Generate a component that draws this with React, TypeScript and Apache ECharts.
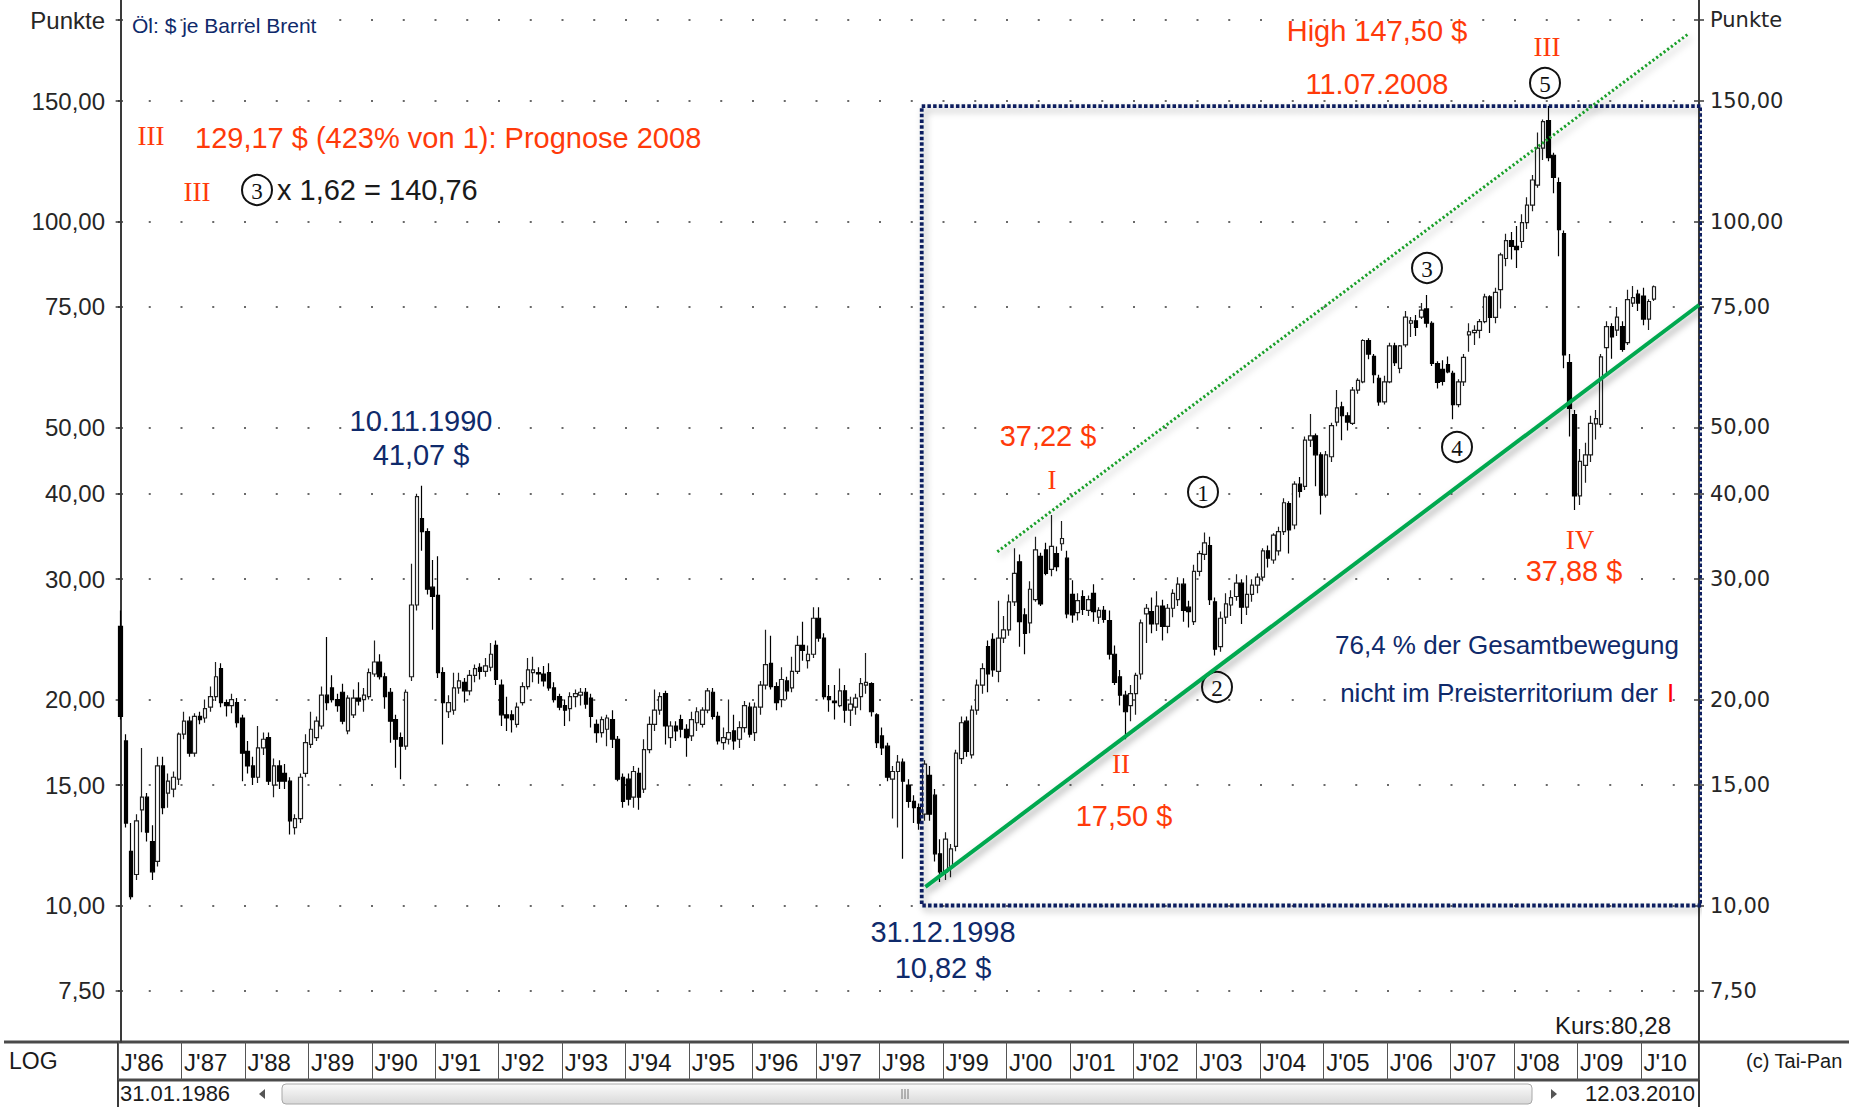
import React, { useEffect, useRef } from "react";
import * as echarts from "echarts";

// ---------- data (monthly Brent candles, Jan 1986 .. Mar 2010) ----------
const firstYear = 1986;
const paddingMonths = 8;

const opens = [
  25.6, 17.4, 12.0, 11.1, 13.8, 14.4, 12.4, 11.6, 16.0, 14.6, 14.8, 15.3,
  17.8, 18.6, 16.7, 18.9, 18.8, 19.5, 20.2, 22.2, 19.8, 19.6, 19.8, 18.8,
  16.8, 16.0, 15.4, 17.0, 17.6, 15.0, 16.0, 15.6, 15.2, 13.0, 13.4, 15.6,
  17.2, 17.6, 18.3, 20.3, 20.8, 20.0, 20.5, 18.0, 19.0, 20.1, 20.0, 20.2,
  21.8, 22.7, 21.6, 20.5, 18.7, 17.6, 17.1, 21.6, 27.5, 36.8, 35.2, 29.2,
  28.4, 21.9, 19.2, 19.3, 20.8, 21.2, 20.6, 21.7, 22.3, 22.0, 22.3, 24.0,
  21.0, 19.0, 19.0, 18.4, 19.8, 20.9, 21.9, 21.9, 21.8, 21.9, 20.8, 20.2,
  19.6, 19.4, 20.2, 20.3, 20.5, 20.1, 18.4, 17.9, 18.1, 18.7, 17.5, 15.4,
  15.3, 14.4, 15.6, 14.8, 16.9, 18.4, 19.3, 20.4, 17.6, 18.3, 18.7, 18.1,
  17.7, 18.5, 18.4, 19.3, 20.5, 18.9, 17.3, 17.5, 18.0, 17.5, 18.2, 19.5,
  17.9, 19.5, 21.0, 22.6, 20.9, 20.0, 21.3, 20.8, 22.0, 24.0, 22.8, 23.3,
  26.3, 24.6, 20.2, 19.9, 19.6, 20.6, 19.3, 19.5, 20.2, 21.0, 21.1, 19.0,
  17.7, 17.1, 15.3, 15.7, 16.2, 15.0, 14.2, 13.9, 13.6, 15.5, 14.5, 11.9,
  11.2, 11.4, 12.2, 16.4, 18.6, 16.6, 19.3, 21.0, 23.9, 24.5, 22.0, 24.6,
  25.3, 27.8, 31.8, 26.6, 25.9, 28.0, 32.4, 33.1, 31.0, 32.7, 33.8, 32.2,
  28.5, 26.8, 28.3, 27.0, 28.6, 26.4, 27.0, 26.1, 23.3, 21.6, 20.3, 19.6,
  20.4, 21.8, 26.7, 26.9, 25.8, 27.4, 25.6, 27.2, 28.0, 29.5, 27.3, 26.0,
  30.8, 32.6, 33.6, 27.8, 23.9, 26.4, 27.5, 28.3, 29.6, 27.3, 28.5, 29.4,
  30.2, 33.0, 32.0, 33.0, 35.2, 38.7, 36.0, 41.3, 41.0, 47.9, 48.6, 45.6,
  39.8, 45.3, 50.9, 53.6, 52.0, 50.7, 56.7, 58.3, 67.0, 63.5, 59.0, 54.5,
  58.3, 65.8, 61.0, 66.0, 71.0, 71.6, 72.5, 74.5, 71.0, 62.0, 60.8, 61.8,
  60.0, 54.0, 58.3, 68.3, 68.8, 69.3, 71.4, 77.6, 72.4, 79.5, 88.3, 93.8,
  92.0, 93.5, 99.6, 105.7, 113.0, 128.0, 140.5, 125.0, 114.0, 96.0, 62.2, 52.2,
  39.7, 44.0, 45.6, 50.6, 50.5, 65.4, 70.2, 69.4, 70.2, 66.5, 76.0, 78.3,
  77.8, 72.0, 77.0,
];

const highs = [
  27.0, 17.8, 13.2, 13.6, 17.0, 14.6, 13.1, 16.5, 16.5, 15.6, 15.7, 17.9,
  19.2, 18.9, 19.1, 19.2, 20.0, 20.9, 22.7, 22.6, 20.0, 20.4, 20.1, 19.0,
  17.4, 16.5, 18.3, 17.9, 17.9, 16.4, 16.3, 16.1, 15.4, 13.6, 15.6, 17.8,
  19.2, 18.9, 20.9, 24.7, 21.7, 20.4, 21.1, 20.3, 20.7, 21.2, 20.8, 22.2,
  24.4, 23.3, 21.9, 20.8, 19.0, 17.9, 20.7, 31.6, 40.0, 41.07, 35.6, 32.0,
  32.4, 22.3, 20.3, 21.9, 21.9, 21.5, 22.1, 22.5, 22.6, 23.0, 24.2, 24.4,
  21.4, 20.2, 19.3, 19.8, 21.2, 23.0, 23.1, 22.3, 22.4, 22.6, 21.2, 20.4,
  20.0, 20.5, 20.7, 20.8, 20.8, 20.4, 18.7, 18.9, 19.0, 19.3, 17.7, 15.6,
  15.6, 16.0, 15.9, 17.5, 18.9, 20.7, 20.5, 20.6, 18.6, 18.6, 19.0, 18.4,
  19.2, 19.5, 19.5, 20.8, 20.8, 19.2, 18.2, 20.0, 19.0, 18.6, 19.9, 19.8,
  19.8, 21.3, 25.3, 24.8, 21.2, 22.3, 21.6, 23.1, 24.8, 26.0, 24.0, 27.3,
  27.3, 25.0, 21.0, 21.0, 22.2, 21.0, 20.2, 20.4, 21.5, 23.4, 21.2, 19.1,
  18.2, 17.3, 16.0, 16.6, 16.4, 15.3, 14.5, 14.1, 16.3, 16.0, 14.8, 12.5,
  12.8, 12.3, 16.9, 18.9, 18.9, 19.6, 21.4, 22.6, 24.4, 25.0, 27.9, 26.5,
  28.5, 33.3, 32.6, 27.2, 29.8, 34.6, 32.8, 33.9, 37.22, 33.5, 36.5, 33.0,
  29.9, 28.6, 28.9, 28.4, 29.5, 27.3, 27.4, 27.0, 24.0, 22.1, 20.6, 21.0,
  21.9, 26.2, 27.6, 28.2, 28.8, 28.0, 27.6, 29.0, 30.2, 30.1, 27.9, 31.5,
  33.0, 35.1, 34.6, 28.2, 26.9, 28.6, 28.9, 30.5, 30.0, 30.4, 30.0, 30.6,
  33.3, 33.6, 35.0, 35.8, 39.4, 39.0, 41.7, 42.3, 48.5, 52.3, 49.0, 46.0,
  46.2, 50.8, 56.7, 54.5, 52.6, 57.3, 59.0, 67.3, 67.5, 64.0, 59.7, 59.5,
  66.5, 66.5, 66.0, 74.0, 72.5, 73.0, 76.0, 78.1, 71.5, 62.5, 62.7, 63.5,
  60.5, 58.8, 64.0, 71.0, 70.5, 72.0, 78.4, 78.0, 80.0, 90.0, 96.0, 96.5,
  98.5, 102.5, 108.5, 117.0, 135.0, 141.0, 147.5, 126.0, 116.0, 97.0, 64.0, 53.0,
  46.5, 47.5, 52.0, 53.0, 64.0, 71.5, 71.0, 75.0, 71.5, 79.5, 80.5, 79.5,
  80.0, 77.0, 80.6,
];

const lows = [
  18.7, 13.0, 10.2, 10.9, 12.8, 12.4, 10.9, 11.4, 13.6, 13.9, 14.4, 15.0,
  17.5, 16.5, 16.5, 18.4, 18.5, 19.2, 19.9, 19.5, 18.9, 19.1, 18.2, 15.2,
  15.6, 15.0, 15.1, 16.6, 15.0, 14.4, 14.8, 14.8, 12.7, 12.7, 13.2, 15.4,
  17.0, 17.4, 18.1, 19.3, 19.8, 19.2, 18.4, 17.8, 18.8, 19.6, 19.2, 20.0,
  21.6, 21.4, 19.4, 17.3, 15.9, 15.3, 16.9, 21.3, 27.0, 33.0, 28.5, 25.3,
  21.5, 17.2, 18.8, 19.0, 20.4, 19.8, 20.3, 21.2, 21.4, 21.6, 22.0, 21.0,
  18.3, 18.0, 17.9, 18.2, 19.6, 20.7, 21.2, 21.1, 20.9, 20.6, 19.8, 19.3,
  18.3, 18.6, 19.5, 19.6, 19.4, 18.2, 17.3, 17.6, 17.1, 17.0, 15.2, 13.9,
  14.0, 13.9, 13.8, 14.6, 16.7, 18.0, 19.0, 17.2, 17.0, 17.4, 17.6, 16.5,
  17.4, 18.0, 18.2, 19.1, 18.7, 17.2, 16.9, 17.2, 16.9, 17.0, 17.9, 17.6,
  17.4, 19.0, 20.7, 20.7, 19.3, 19.5, 20.0, 20.5, 21.8, 22.8, 22.2, 23.0,
  24.3, 20.0, 19.2, 18.7, 19.5, 18.5, 18.3, 19.0, 19.3, 20.4, 18.9, 17.0,
  16.6, 15.2, 13.4, 13.0, 11.7, 13.9, 13.2, 12.9, 13.3, 13.3, 11.6, 10.82,
  10.9, 11.0, 12.0, 16.1, 16.5, 16.4, 19.0, 20.4, 20.5, 21.6, 21.2, 24.2,
  24.8, 27.4, 23.9, 23.3, 25.0, 27.8, 27.4, 30.4, 30.3, 30.8, 33.0, 26.3,
  25.9, 26.1, 26.6, 26.5, 26.0, 25.8, 25.9, 22.9, 21.0, 19.6, 17.5, 18.6,
  19.0, 21.4, 24.2, 25.0, 25.2, 24.4, 25.0, 26.4, 27.4, 26.0, 25.5, 25.7,
  30.3, 32.0, 27.5, 23.2, 23.5, 25.8, 26.5, 27.9, 25.8, 26.6, 27.8, 28.6,
  29.8, 31.2, 31.6, 32.5, 34.8, 32.7, 35.5, 39.5, 40.5, 46.8, 41.0, 37.3,
  39.5, 44.5, 50.2, 47.9, 49.5, 50.4, 56.0, 58.0, 62.9, 58.0, 53.8, 54.0,
  58.0, 61.5, 60.0, 65.5, 67.8, 68.0, 72.0, 70.0, 61.5, 57.0, 57.6, 60.0,
  51.4, 53.5, 57.5, 64.5, 66.0, 67.5, 71.0, 68.7, 71.0, 74.6, 86.0, 88.0,
  85.5, 91.5, 97.5, 103.5, 112.0, 123.0, 122.5, 110.0, 89.0, 61.0, 48.5, 37.88,
  38.5, 41.5, 44.5, 48.0, 50.0, 59.5, 63.0, 68.0, 64.5, 66.0, 75.0, 74.0,
  70.5, 69.4, 76.5,
];

const closes = [
  18.9, 13.2, 10.3, 13.3, 14.4, 12.8, 11.2, 16.0, 13.9, 15.2, 15.4, 17.8,
  18.6, 16.7, 18.9, 18.7, 19.4, 20.2, 21.6, 19.8, 19.6, 20.0, 18.5, 16.7,
  16.0, 15.4, 17.0, 17.5, 15.2, 16.0, 15.2, 15.2, 13.3, 13.4, 15.4, 17.3,
  18.1, 18.6, 20.3, 19.8, 20.0, 19.6, 18.6, 20.1, 20.1, 19.9, 20.3, 21.9,
  22.7, 21.6, 20.2, 18.6, 17.5, 17.1, 20.5, 27.5, 39.6, 35.2, 29.0, 28.3,
  21.9, 19.8, 19.8, 20.8, 21.3, 20.6, 21.7, 22.2, 22.0, 22.4, 23.3, 21.4,
  19.0, 18.8, 18.7, 19.5, 20.9, 22.1, 22.1, 21.8, 21.3, 20.8, 20.0, 19.5,
  19.3, 20.2, 20.4, 20.5, 19.7, 18.9, 17.9, 18.7, 18.8, 17.5, 15.3, 14.2,
  14.3, 15.7, 14.4, 16.9, 18.4, 19.3, 20.2, 18.3, 18.3, 18.0, 18.1, 17.6,
  18.7, 19.2, 19.3, 20.6, 18.9, 17.4, 17.6, 17.9, 17.4, 18.2, 19.6, 17.8,
  19.5, 21.0, 22.5, 20.9, 19.8, 21.4, 20.6, 22.0, 24.0, 23.6, 23.3, 26.3,
  24.6, 20.2, 20.0, 19.8, 20.6, 19.3, 19.7, 20.1, 21.1, 21.2, 19.2, 17.3,
  17.0, 15.4, 15.7, 16.2, 15.2, 14.2, 13.9, 13.2, 16.1, 13.6, 11.9, 11.2,
  12.5, 12.1, 16.7, 18.5, 16.8, 19.3, 21.0, 22.2, 21.8, 22.1, 24.6, 25.3,
  27.8, 30.6, 26.0, 25.0, 29.0, 33.1, 27.6, 30.6, 33.5, 31.3, 34.4, 26.7,
  26.6, 27.9, 27.1, 28.0, 26.9, 27.0, 26.2, 23.3, 21.2, 20.3, 19.2, 20.4,
  21.7, 25.9, 27.2, 25.8, 27.4, 25.6, 27.2, 28.6, 29.5, 27.0, 26.9, 30.8,
  32.7, 33.9, 28.0, 23.7, 26.3, 27.6, 28.2, 29.6, 27.3, 28.5, 29.4, 30.2,
  33.0, 32.2, 34.8, 35.2, 38.8, 35.4, 41.3, 40.3, 47.9, 48.6, 45.6, 39.8,
  45.6, 50.3, 53.4, 52.0, 50.9, 56.7, 58.6, 67.0, 64.0, 59.7, 54.5, 58.3,
  65.8, 62.2, 65.8, 72.5, 71.6, 70.0, 74.2, 71.0, 62.0, 58.2, 58.4, 60.3,
  54.0, 58.3, 63.3, 69.0, 69.3, 71.4, 77.6, 72.4, 78.8, 89.4, 93.8, 92.0,
  91.0, 99.6, 105.7, 115.0, 128.0, 140.0, 124.0, 116.0, 97.3, 63.8, 53.3, 39.7,
  44.6, 45.6, 50.7, 51.5, 63.4, 70.2, 67.8, 72.5, 65.0, 76.9, 77.4, 76.0,
  72.0, 76.4, 80.28,
];

// axis ticks (price levels); the top level is labelled "Punkte"
const yTickValues = [7.5, 10, 15, 20, 30, 40, 50, 75, 100, 150, 197];
const topTickValue = 197;
const topTickLabel = "Punkte";
const yMinPrice = 6.316;
const yMaxPrice = 210.8;

// overlay lines, as [month index, price]
const supportLine = [[152.2, 10.65], [298.5, 75.5]];
const channelLine = [[165.8, 32.9], [296.3, 187.6]];
const waveOneLevel = [[175.2, 37.22], [296.3, 37.22]];
const boxLine = [[151.5, 147.5], [298.9, 147.5], [298.9, 10.0], [151.5, 10.0], [151.5, 147.5]];

// ---------- styles ----------
const RED = "#ff3a0a";
const NAVY = "#0f2a6b";
const SANS = "Liberation Sans, Arial, sans-serif";
const SERIF = "Liberation Serif, Times New Roman, serif";

const txt = (x: number, y: number, text: string, o: any = {}) => ({
  type: "text",
  x,
  y,
  silent: true,
  z: 100,
  style: {
    text,
    fill: o.fill || "#111",
    fontSize: o.size || 29,
    fontFamily: o.family || SANS,
    fontWeight: o.weight || "normal",
    align: o.align || "center",
    verticalAlign: "middle",
    textAlign: o.align || "center",
    textVerticalAlign: "middle",
  },
});

const circled = (x: number, y: number, d: string) => ({
  type: "group",
  x,
  y,
  silent: true,
  z: 100,
  children: [
    { type: "circle", shape: { cx: 0, cy: 0, r: 15 }, style: { fill: "rgba(0,0,0,0)", stroke: "#111", lineWidth: 2 } },
    {
      type: "text",
      style: {
        text: d, x: 0, y: 1, fill: "#111", fontSize: 23, fontFamily: SERIF,
        align: "center", verticalAlign: "middle", textAlign: "center", textVerticalAlign: "middle",
      },
    },
  ],
});

const roman = (x: number, y: number, t: string) => txt(x, y, t, { fill: RED, size: 27, family: SERIF });

export default function App() {
  const ref = useRef<HTMLDivElement>(null);

  useEffect(() => {
    if (!ref.current) return;
    const chart = echarts.init(ref.current, undefined, { renderer: "svg" });

    const n = closes.length + paddingMonths;
    const monthCats = Array.from({ length: n }, (_, i) =>
      `${firstYear + Math.floor(i / 12)}-${String((i % 12) + 1).padStart(2, "0")}`
    );
    const candles = closes.map((c, i) => [
      Math.log10(opens[i]), Math.log10(c), Math.log10(lows[i]), Math.log10(highs[i]),
    ]);
    const toLog = (pts: number[][]) => pts.map(([i, p]) => [i, Math.log10(p)]);
    const tickLogs = yTickValues.map((v) => Math.log10(v));
    const fmt = (v: number) => {
      let best = yTickValues[0];
      for (const t of yTickValues) if (Math.abs(Math.log10(t) - v) < Math.abs(Math.log10(best) - v)) best = t;
      return best === topTickValue ? topTickLabel : best.toFixed(2).replace(".", ",");
    };
    const baseY = { type: "value", min: Math.log10(yMinPrice), max: Math.log10(yMaxPrice) };
    const shadow = { shadowBlur: 7, shadowColor: "rgba(0,0,0,0.35)", shadowOffsetX: 3, shadowOffsetY: 4 };

    const option: any = {
      animation: false,
      backgroundColor: "#ffffff",
      grid: { left: 118, right: 150, top: 0, bottom: 65, containLabel: false },
      xAxis: [
        {
          type: "category",
          data: monthCats,
          boundaryGap: true,
          position: "bottom",
          axisLine: { show: false },
          axisTick: { show: true, interval: (i: number) => i % 12 === 0, length: 38, lineStyle: { color: "#555", width: 1 } },
          axisLabel: {
            show: true,
            interval: (i: number) => i % 12 === 0,
            formatter: (v: string) => "J'" + v.slice(2, 4),
            align: "left",
            margin: 8,
            fontSize: 24,
            fontFamily: SANS,
            color: "#1a1a1a",
          },
          splitLine: { show: false },
        },
        { type: "value", min: -0.5, max: n - 0.5, show: false, position: "bottom" },
      ],
      yAxis: [
        {
          ...baseY,
          position: "left",
          axisLine: { show: true, lineStyle: { color: "#3a3a3a", width: 2 } },
          axisTick: { show: true, customValues: tickLogs, length: 5, lineStyle: { color: "#3a3a3a", width: 1.5 } },
          axisLabel: { show: true, customValues: tickLogs, formatter: fmt, margin: 13, fontSize: 24, fontFamily: SANS, color: "#262626" },
          splitLine: { show: true, lineStyle: { color: "#6a6a6a", width: 2, type: [2, 29.75], dashOffset: 1 } },
        },
        {
          ...baseY,
          position: "right",
          axisLine: { show: true, lineStyle: { color: "#3a3a3a", width: 2 } },
          axisTick: { show: true, customValues: tickLogs, length: 5, lineStyle: { color: "#3a3a3a", width: 1.5 } },
          axisLabel: { show: true, customValues: tickLogs, formatter: fmt, margin: 11, fontSize: 21, fontFamily: "DejaVu Sans, Verdana, sans-serif", color: "#262626" },
          splitLine: { show: false },
        },
        {
          ...baseY,
          position: "left",
          axisLine: { show: false },
          axisTick: { show: true, inside: true, customValues: tickLogs, length: 5, lineStyle: { color: "#3a3a3a", width: 1.5 } },
          axisLabel: { show: false },
          splitLine: { show: false },
        },
        {
          ...baseY,
          position: "right",
          axisLine: { show: false },
          axisTick: { show: true, inside: true, customValues: tickLogs, length: 5, lineStyle: { color: "#3a3a3a", width: 1.5 } },
          axisLabel: { show: false },
          splitLine: { show: false },
        },
      ],
      series: [
        {
          type: "candlestick",
          xAxisIndex: 0,
          yAxisIndex: 0,
          data: candles,
          barWidth: 4,
          silent: true,
          itemStyle: { color: "#ffffff", color0: "#000000", borderColor: "#1e1e1e", borderColor0: "#000000", borderWidth: 1.2 },
          z: 2,
        },
        {
          type: "line", xAxisIndex: 1, yAxisIndex: 0, data: toLog(boxLine), symbol: "none", clip: false, silent: true, z: 4,
          lineStyle: { color: "#0b1f5e", width: 3.8, type: [3.5, 2.2], ...shadow },
        },
        {
          type: "line", xAxisIndex: 1, yAxisIndex: 0, data: toLog(waveOneLevel), symbol: "none", clip: false, silent: true, z: 5,
          lineStyle: { color: "#4a7bbb", width: 2, ...shadow },
        },
        {
          type: "line", xAxisIndex: 1, yAxisIndex: 0, data: toLog(channelLine), symbol: "none", clip: false, silent: true, z: 5,
          lineStyle: { color: "#1a9f2a", width: 3, type: [2.2, 2.4], ...shadow },
        },
        {
          type: "line", xAxisIndex: 1, yAxisIndex: 0, data: toLog(supportLine), symbol: "none", clip: false, silent: true, z: 6,
          lineStyle: { color: "#00a84f", width: 4, ...shadow },
        },
      ],
      graphic: [
        // frame of the date strip
        { type: "line", silent: true, shape: { x1: 4, y1: 1042, x2: 1849, y2: 1042 }, style: { stroke: "#4a4a4a", lineWidth: 3 } },
        { type: "line", silent: true, shape: { x1: 118, y1: 1080, x2: 1699, y2: 1080 }, style: { stroke: "#4a4a4a", lineWidth: 3 } },
        { type: "line", silent: true, shape: { x1: 118, y1: 1042, x2: 118, y2: 1107 }, style: { stroke: "#3a3a3a", lineWidth: 2 } },
        { type: "line", silent: true, shape: { x1: 1699, y1: 1042, x2: 1699, y2: 1107 }, style: { stroke: "#3a3a3a", lineWidth: 2 } },
        // scrollbar
        {
          type: "rect", silent: true, shape: { x: 282, y: 1084, width: 1250, height: 20, r: 4 },
          style: {
            fill: new echarts.graphic.LinearGradient(0, 0, 0, 1, [
              { offset: 0, color: "#fbfbfb" }, { offset: 1, color: "#d9d9d9" },
            ]),
            stroke: "#a8a8a8", lineWidth: 1,
          },
        },
        { type: "line", silent: true, shape: { x1: 902, y1: 1089, x2: 902, y2: 1099 }, style: { stroke: "#777", lineWidth: 1 } },
        { type: "line", silent: true, shape: { x1: 905, y1: 1089, x2: 905, y2: 1099 }, style: { stroke: "#777", lineWidth: 1 } },
        { type: "line", silent: true, shape: { x1: 908, y1: 1089, x2: 908, y2: 1099 }, style: { stroke: "#777", lineWidth: 1 } },
        { type: "polygon", silent: true, shape: { points: [[259, 1094], [265, 1089], [265, 1099]] }, style: { fill: "#555" } },
        { type: "polygon", silent: true, shape: { points: [[1557, 1094], [1551, 1089], [1551, 1099]] }, style: { fill: "#555" } },
        txt(120, 1093, "31.01.1986", { align: "left", size: 22, fill: "#1a1a1a" }),
        txt(1695, 1093, "12.03.2010", { align: "right", size: 22, fill: "#1a1a1a" }),
        txt(9, 1061, "LOG", { align: "left", size: 23, fill: "#1a1a1a" }),
        txt(1746, 1061, "(c) Tai-Pan", { align: "left", size: 20, fill: "#1a1a1a" }),
        txt(1671, 1025, "Kurs:80,28", { align: "right", size: 24, fill: "#1a1a1a" }),
        // annotations
        txt(132, 25, "Öl: $ je Barrel Brent", { align: "left", size: 21, fill: NAVY }),
        roman(151, 136, "III"),
        txt(195, 138, "129,17 $ (423% von 1): Prognose 2008", { align: "left", fill: RED }),
        roman(197, 192, "III"),
        circled(257, 190, "3"),
        txt(277, 190, "x 1,62 = 140,76", { align: "left", fill: "#1a1a1a" }),
        txt(421, 421, "10.11.1990", { fill: NAVY }),
        txt(421, 455, "41,07 $", { fill: NAVY }),
        txt(1048, 436, "37,22 $", { fill: RED }),
        roman(1052, 480, "I"),
        circled(1203, 492, "1"),
        roman(1121, 764, "II"),
        txt(1124, 816, "17,50 $", { fill: RED }),
        circled(1217, 687, "2"),
        circled(1427, 268, "3"),
        circled(1457, 447, "4"),
        circled(1545, 83, "5"),
        roman(1547, 47, "III"),
        txt(1377, 31, "High 147,50 $", { fill: RED }),
        txt(1377, 84, "11.07.2008", { fill: RED }),
        roman(1580, 540, "IV"),
        txt(1574, 571, "37,88 $", { fill: RED }),
        txt(1507, 645, "76,4 % der Gesamtbewegung", { size: 26, fill: NAVY }),
        txt(1658, 693, "nicht im Preisterritorium der", { align: "right", size: 26, fill: NAVY }),
        txt(1667, 693, "I", { align: "left", size: 26, fill: "#ff0000" }),
        txt(943, 932, "31.12.1998", { fill: NAVY }),
        txt(943, 968, "10,82 $", { fill: NAVY }),
      ],
    };

    chart.setOption(option);
    return () => chart.dispose();
  }, []);

  return (
    <div
      ref={ref}
      style={{ position: "absolute", left: 0, top: 0, width: 1849, height: 1107, background: "#fff" }}
    />
  );
}
